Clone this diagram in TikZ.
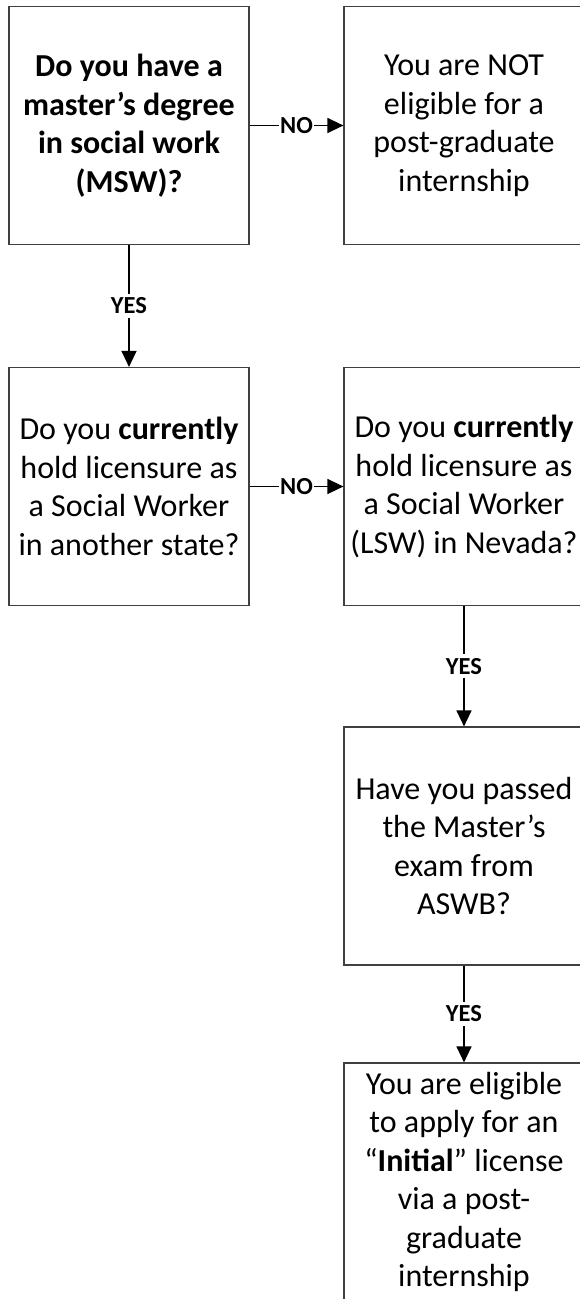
\documentclass[tikz,border=0pt]{standalone}
\usepackage{fontspec}
\setmainfont{Carlito}
\usetikzlibrary{arrows.meta}

\tikzset{
	qbox/.style={draw=black!75, line width=1.2pt, minimum width=240pt, minimum height=238pt,
		align=center, inner sep=0pt, font=\fontsize{32}{38.5}\selectfont},
	answer/.style={fill=white, inner xsep=1pt, inner ysep=4pt, font=\bfseries\fontsize{24.5}{27}\selectfont},
	flow/.style={line width=1.3pt, -{Triangle[length=16pt, width=15pt]}}
}

\begin{document}
\begin{tikzpicture}[x=1pt, y=1pt]
			\useasboundingbox (0, 0) rectangle (580, -1299);

			% left column
			\node[qbox, font=\bfseries\fontsize{32}{38.5}\selectfont] (msw) at(129, -125.5){Do you have a\\master’s degree\\in social work\\(MSW)?};
			\node[qbox] (otherstate) at(129, -486.5){Do you \textbf{currently}\\hold licensure as\\a Social Worker\\in another state?};

			% right column
			\node[qbox] (noteligible) at(464, -125.5){You are NOT\\eligible for a\\post-graduate\\internship};
			\node[qbox] (nevada) at(464, -486.5){Do you \textbf{currently}\\hold licensure as\\a Social Worker\\(LSW) in Nevada?};
			\node[qbox] (aswb) at(464, -846){Have you passed\\the Master’s\\exam from\\ASWB?};
			\node[qbox] (eligible) at(464, -1182){You are eligible\\to apply for an\\“\textbf{Initial}” license\\via a post-\\graduate\\internship};

			\draw[flow](msw) to node[answer]{NO} (noteligible);
			\draw[flow](msw) to node[answer]{YES} (otherstate);
			\draw[flow](otherstate) to node[answer]{NO} (nevada);
			\draw[flow](nevada) to node[answer]{YES} (aswb);
			\draw[flow](aswb) to node[answer]{YES} (eligible);

		\end{tikzpicture}
\end{document}
